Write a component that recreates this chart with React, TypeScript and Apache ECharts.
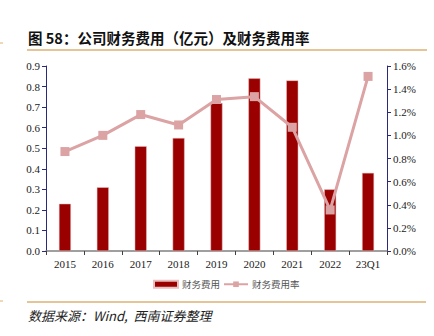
import React, { useEffect, useRef } from "react";
import * as echarts from "echarts";

const categories = ["2015", "2016", "2017", "2018", "2019", "2020", "2021", "2022", "23Q1"];
const expense = [0.23, 0.31, 0.51, 0.55, 0.72, 0.84, 0.83, 0.30, 0.38];
const expenseRate = [0.86, 1.0, 1.18, 1.09, 1.31, 1.335, 1.07, 0.355, 1.51];
const leftTicks = { min: 0, max: 0.9, interval: 0.1 };
const rightTicks = { min: 0, max: 1.6, interval: 0.2 };

export default function App() {
  const ref = useRef<HTMLDivElement>(null);
  useEffect(() => {
    if (!ref.current) return;
    const chart = echarts.init(ref.current, null, { renderer: "svg" });
    const serif = "Liberation Serif";
    const cjk = "Noto Sans CJK SC";
    chart.setOption({
      animation: false,
      backgroundColor: "#ffffff",
      grid: { left: 46, right: 47, top: 66, bottom: 85 },
      legend: {
        bottom: 42,
        left: 148,
        itemGap: 3,
        itemWidth: 24,
        itemHeight: 7,
        textStyle: { fontFamily: cjk, fontSize: 9.5, color: "#555", padding: [0, 0, 0, -1] },
        data: [
          { name: "财务费用", icon: "rect" },
          { name: "财务费用率" },
        ],
      },
      xAxis: {
        type: "category",
        data: categories,
        axisLine: { lineStyle: { color: "#808080", width: 1.5 } },
        axisTick: { show: true, alignWithLabel: false, lineStyle: { color: "#404040" }, length: 4 },
        axisLabel: { fontFamily: serif, fontSize: 11, color: "#222", margin: 7 },
      },
      yAxis: [
        {
          type: "value",
          min: leftTicks.min,
          max: leftTicks.max,
          interval: leftTicks.interval,
          axisLine: { show: true, lineStyle: { color: "#2a2a7a" } },
          axisTick: { show: true, length: 4, lineStyle: { color: "#2a2a7a" } },
          splitLine: { show: false },
          axisLabel: {
            fontFamily: serif,
            fontSize: 11,
            color: "#222",
            margin: 6,
            formatter: (v: number) => v.toFixed(1),
          },
        },
        {
          type: "value",
          min: rightTicks.min,
          max: rightTicks.max,
          interval: rightTicks.interval,
          position: "right",
          axisLine: { show: true, lineStyle: { color: "#2a2a7a" } },
          axisTick: { show: true, length: 4, lineStyle: { color: "#2a2a7a" } },
          splitLine: { show: false },
          axisLabel: {
            fontFamily: serif,
            fontSize: 11,
            color: "#222",
            margin: 6,
            formatter: (v: number) => v.toFixed(1) + "%",
          },
        },
      ],
      series: [
        {
          name: "财务费用",
          type: "bar",
          data: expense,
          barWidth: 12,
          itemStyle: { color: "#9b0000", borderColor: "#e8c0c0", borderWidth: 0.5 },
        },
        {
          name: "财务费用率",
          type: "line",
          yAxisIndex: 1,
          data: expenseRate,
          symbol: "rect",
          symbolSize: 9,
          lineStyle: { color: "#dba3a3", width: 3 },
          itemStyle: { color: "#dba3a3" },
          z: 5,
        },
      ],
      graphic: [
        {
          type: "text",
          left: 28,
          top: 30,
          style: {
            text: "图 58：公司财务费用（亿元）及财务费用率",
            fontFamily: cjk,
            fontWeight: "bold",
            fontSize: 14.5,
            fill: "#111",
          },
        },
        {
          type: "line",
          shape: { x1: 27, y1: 50, x2: 427, y2: 50 },
          style: { stroke: "#dcb274", lineWidth: 1.5 },
        },
        {
          type: "line",
          shape: { x1: 0, y1: 43, x2: 3, y2: 43 },
          style: { stroke: "#dcb274", lineWidth: 1 },
        },
        {
          type: "line",
          shape: { x1: 27, y1: 302, x2: 426, y2: 302 },
          style: { stroke: "#dcb274", lineWidth: 1.5 },
        },
        {
          type: "line",
          shape: { x1: 0, y1: 301, x2: 3, y2: 301 },
          style: { stroke: "#dcb274", lineWidth: 1 },
        },
        {
          type: "text",
          left: 28,
          top: 309,
          style: {
            text: "数据来源：Wind,  西南证券整理",
            fontFamily: cjk,
            fontStyle: "italic",
            fontSize: 13,
            fill: "#222",
          },
        },
      ],
    });
    return () => chart.dispose();
  }, []);
  return <div ref={ref} style={{ width: 434, height: 336, position: "absolute", left: 0, top: 0 }} />;
}
